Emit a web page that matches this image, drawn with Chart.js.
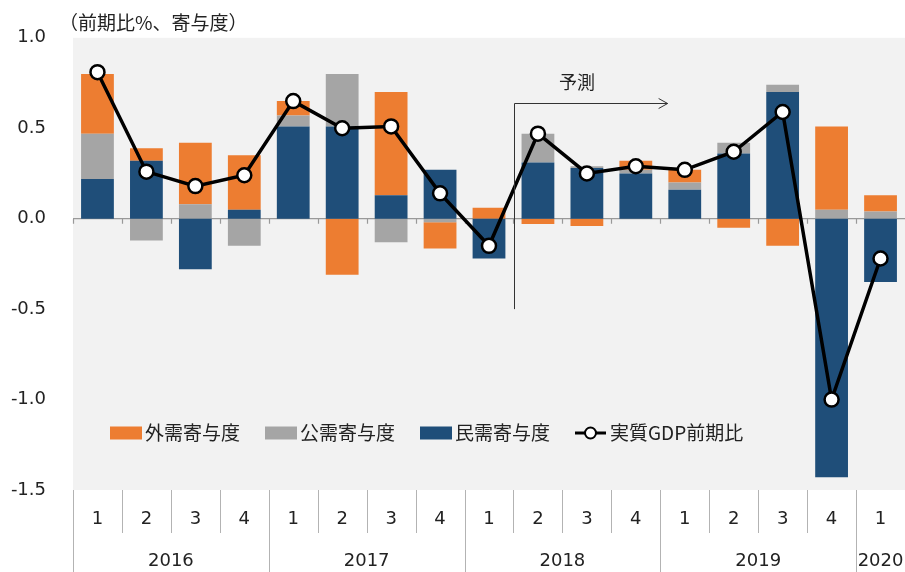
<!DOCTYPE html>
<html>
<head>
<meta charset="utf-8">
<script src="https://cdn.jsdelivr.net/npm/chart.js@4.4.0/dist/chart.umd.min.js"></script>
<style>
  body { margin: 0; background: #fff; }
</style>
</head>
<body>
<canvas id="chart1" width="905" height="572"></canvas>
<script>
// x axis: quarter labels, grouped by year
const quarters = ['1','2','3','4','1','2','3','4','1','2','3','4','1','2','3','4','1'];
const years = ['2016','2017','2018','2019','2020'];
const yearSpan = [4, 4, 4, 4, 1];

// contributions (% points) and real GDP q/q (%)
const privateDemand = [0.22, 0.32, -0.28, 0.05, 0.51, 0.51, 0.13, 0.27, -0.22, 0.31, 0.28, 0.25, 0.16, 0.36, 0.70, -1.43, -0.35];
const publicDemand = [0.25, -0.12, 0.08, -0.15, 0.06, 0.29, -0.13, -0.02, 0.00, 0.16, 0.01, 0.02, 0.04, 0.06, 0.04, 0.05, 0.04];
const externalDemand = [0.33, 0.07, 0.34, 0.30, 0.08, -0.31, 0.57, -0.145, 0.06, -0.03, -0.04, 0.05, 0.07, -0.05, -0.15, 0.46, 0.09];
const realGdp = [0.81, 0.26, 0.18, 0.24, 0.65, 0.50, 0.51, 0.14, -0.15, 0.47, 0.25, 0.29, 0.27, 0.37, 0.59, -1.00, -0.22];

const seriesNames = ['実質GDP前期比', '民需寄与度', '公需寄与度', '外需寄与度'];
const unitTitle = '（前期比%、寄与度）';
const forecastLabel = '予測';
const forecastStart = 9; // first forecast quarter (2018 Q2)

const jpFont = '"Noto Sans CJK JP", "Noto Sans", sans-serif';
const numFont = '"DejaVu Sans", Verdana, sans-serif';
const textColor = '#222';

const decor = {
  id: 'decor',
  beforeDraw(chart) {
    const ctx = chart.ctx, a = chart.chartArea;
    ctx.save();
    ctx.fillStyle = '#f2f2f2';
    ctx.fillRect(a.left, a.top, a.right - a.left, a.bottom - a.top);
    ctx.fillStyle = textColor;
    ctx.font = '19px ' + jpFont;
    ctx.textBaseline = 'middle';
    ctx.textAlign = 'left';
    ctx.fillText(unitTitle, 59, 23);
    ctx.restore();
  },
  beforeDatasetsDraw(chart) {
    // zero line with small ticks at category boundaries
    const ctx = chart.ctx, a = chart.chartArea;
    const x = chart.scales.x, y = chart.scales.y;
    const y0 = y.getPixelForValue(0);
    const w = (a.right - a.left) / quarters.length;
    ctx.save();
    ctx.strokeStyle = '#999';
    ctx.lineWidth = 1.2;
    ctx.beginPath();
    ctx.moveTo(a.left, y0); ctx.lineTo(a.right, y0);
    for (let i = 0; i < quarters.length; i++) {
      const bx = Math.round(x.getPixelForValue(i) - w / 2) + 0.5;
      ctx.moveTo(bx, y0); ctx.lineTo(bx, y0 + 5);
    }
    ctx.stroke();
    ctx.restore();
  },
  afterDraw(chart) {
    const ctx = chart.ctx, a = chart.chartArea;
    const x = chart.scales.x, y = chart.scales.y;
    const w = (a.right - a.left) / quarters.length;
    const H = chart.height;
    ctx.save();

    // separators under the plot
    ctx.strokeStyle = '#b3b3b3';
    ctx.lineWidth = 1;
    let start = 0;
    const yearStarts = [];
    yearSpan.forEach(n => { yearStarts.push(start); start += n; });
    ctx.beginPath();
    for (let i = 0; i < quarters.length; i++) {
      const bx = Math.round(x.getPixelForValue(i) - w / 2) + 0.5;
      const full = yearStarts.includes(i);
      ctx.moveTo(bx, a.bottom); ctx.lineTo(bx, full ? H : a.bottom + 43);
    }
    ctx.stroke();

    // year labels
    ctx.fillStyle = textColor;
    ctx.font = '18px ' + numFont;
    ctx.textAlign = 'center';
    ctx.textBaseline = 'middle';
    years.forEach((yr, k) => {
      const i0 = yearStarts[k], i1 = i0 + yearSpan[k] - 1;
      const cx = (x.getPixelForValue(i0) + x.getPixelForValue(i1)) / 2;
      ctx.fillText(yr, cx, 561);
    });

    // forecast marker
    const fx = Math.round(x.getPixelForValue(forecastStart) - w / 2) + 1.5;
    const fy = Math.round(y.getPixelForValue(0.64)) + 0.5;
    const fyb = y.getPixelForValue(-0.5);
    const ax = x.getPixelForValue(forecastStart + 2) + w * 0.65;
    ctx.strokeStyle = '#333';
    ctx.lineWidth = 1;
    ctx.beginPath();
    ctx.moveTo(fx, fyb); ctx.lineTo(fx, fy); ctx.lineTo(ax, fy);
    ctx.moveTo(ax - 9, fy - 5); ctx.lineTo(ax, fy); ctx.lineTo(ax - 9, fy + 5);
    ctx.stroke();
    ctx.font = '18px ' + jpFont;
    ctx.fillText(forecastLabel, x.getPixelForValue(forecastStart + 1) - w * 0.2, y.getPixelForValue(0.757));

    // legend inside the plot
    const ly = 433;
    let lx = 110;
    ctx.font = '19px ' + jpFont;
    ctx.textAlign = 'left';
    [3, 2, 1, 0].forEach(di => {
      const ds = chart.data.datasets[di];
      if (ds.type === 'line') {
        ctx.strokeStyle = '#000';
        ctx.lineWidth = 3;
        ctx.beginPath(); ctx.moveTo(lx, ly); ctx.lineTo(lx + 31, ly); ctx.stroke();
        ctx.beginPath(); ctx.arc(lx + 15.5, ly, 5.5, 0, Math.PI * 2);
        ctx.fillStyle = '#fff'; ctx.fill();
        ctx.lineWidth = 2; ctx.stroke();
      } else {
        ctx.fillStyle = ds.backgroundColor;
        ctx.fillRect(lx, ly - 6.5, 32, 13);
      }
      ctx.fillStyle = textColor;
      ctx.fillText(ds.label, lx + 35, ly);
      lx += 35 + ctx.measureText(ds.label).width + 25;
    });
    ctx.restore();
  }
};

const data = {
  labels: quarters,
  datasets: [
    {
      type: 'line', label: seriesNames[0], data: realGdp, order: 0,
      borderColor: '#000', borderWidth: 3.5,
      pointRadius: 7, pointHoverRadius: 7, pointBackgroundColor: '#fff',
      pointBorderColor: '#000', pointBorderWidth: 2.5, tension: 0
    },
    { type: 'bar', label: seriesNames[1], data: privateDemand, backgroundColor: '#1f4e79', order: 1, stack: 's' },
    { type: 'bar', label: seriesNames[2], data: publicDemand, backgroundColor: '#a5a5a5', order: 1, stack: 's' },
    { type: 'bar', label: seriesNames[3], data: externalDemand, backgroundColor: '#ed7d31', order: 1, stack: 's' }
  ]
};

const config = {
  type: 'bar',
  data: data,
  options: {
    responsive: false,
    animation: false,
    devicePixelRatio: 1,
    layout: { autoPadding: false, padding: { top: 37, right: 0, left: 0, bottom: 0 } },
    datasets: { bar: { barPercentage: 0.67, categoryPercentage: 1 } },
    plugins: { legend: { display: false }, tooltip: { enabled: false } },
    scales: {
      x: {
        stacked: true,
        grid: { display: false, drawTicks: false },
        border: { display: false },
        ticks: { color: textColor, font: { family: numFont, size: 18 }, padding: 19, maxRotation: 0, autoSkip: false },
        afterFit(scale) { scale.height = 82; scale.paddingLeft = 0; scale.paddingRight = 0; }
      },
      y: {
        stacked: true,
        min: -1.5, max: 1.0,
        grid: { display: false, drawTicks: false },
        border: { display: false },
        ticks: {
          stepSize: 0.5, color: textColor, padding: 27,
          font: { family: numFont, size: 18 },
          callback: v => v.toFixed(1)
        },
        afterFit(scale) { scale.width = 73; }
      }
    }
  },
  plugins: [decor]
};

const myChart = new Chart(document.getElementById('chart1'), config);
</script>
</body>
</html>
